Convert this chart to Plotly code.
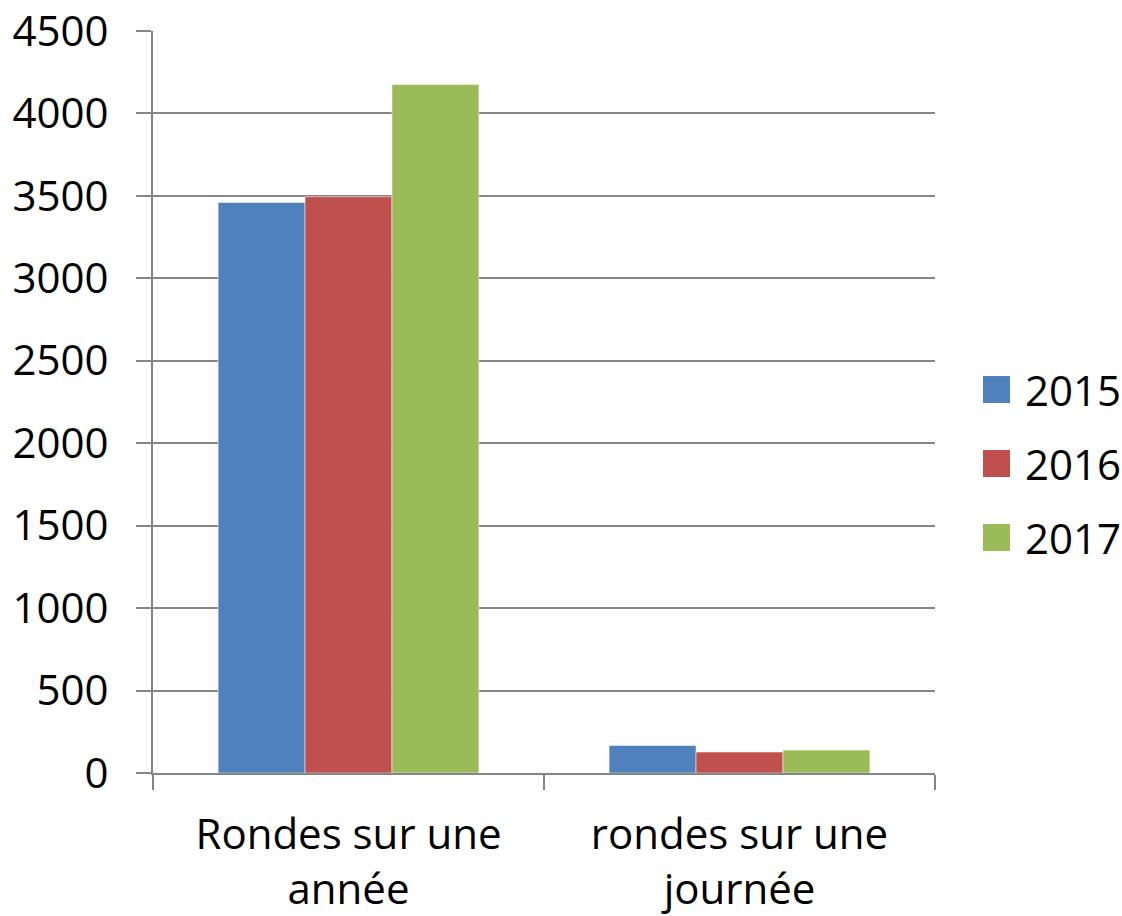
import plotly.graph_objects as go

categories = ["Rondes sur une<br>année", "rondes sur une<br>journée"]
years = ["2015", "2016", "2017"]
values_2015 = [3460, 167]
values_2016 = [3495, 127]
values_2017 = [4175, 139]
colors = ["#4F81BD", "#C0504D", "#9BBB59"]

fig = go.Figure()
for name, vals, col in zip(years, [values_2015, values_2016, values_2017], colors):
    fig.add_trace(go.Bar(x=categories, y=vals, name=name, showlegend=False,
                         marker=dict(color=col, line=dict(color="rgba(255,255,255,0.5)", width=1))))

# legend drawn by hand so the swatches can be as large as in the original
for i, (name, col) in enumerate(zip(years, colors)):
    yc = 0.5168 - i * 0.0997
    fig.add_shape(type="rect", xref="paper", yref="paper",
                  x0=1.0614, x1=1.0959, y0=yc - 0.0182, y1=yc + 0.0182,
                  fillcolor=col, line=dict(width=0))
    fig.add_annotation(text=name, xref="paper", yref="paper", x=1.1125, y=yc,
                       xanchor="left", yanchor="middle", showarrow=False,
                       font=dict(size=42))

fig.update_layout(
    width=1122, height=916,
    barmode="group", bargap=0.333, bargroupgap=0,
    plot_bgcolor="white", paper_bgcolor="white",
    margin=dict(l=153, r=187, t=31, b=143, autoexpand=False),
    font=dict(family="Open Sans", size=42, color="black"),
)
fig.update_yaxes(range=[0, 4500], dtick=500, showgrid=True, gridcolor="#868686", gridwidth=2,
                 showline=True, linecolor="#868686", linewidth=2,
                 ticks="outside", ticklen=15, tickcolor="#868686", tickwidth=2,
                 zeroline=False, tickfont=dict(size=42), automargin=False,
                 ticklabelstandoff=19, ticklabeloverflow="allow")
fig.update_xaxes(showline=True, linecolor="#868686", linewidth=2,
                 ticks="outside", ticklen=15, tickcolor="#868686", tickwidth=2,
                 tickson="boundaries", tickfont=dict(size=42), automargin=False,
                 ticklabelstandoff=24, ticklabeloverflow="allow")

# drop the default 8px body margin so the figure fills the window exactly
fig.write_html("out.html", config={"displayModeBar": False},
               post_script="document.body.style.margin='0';")
